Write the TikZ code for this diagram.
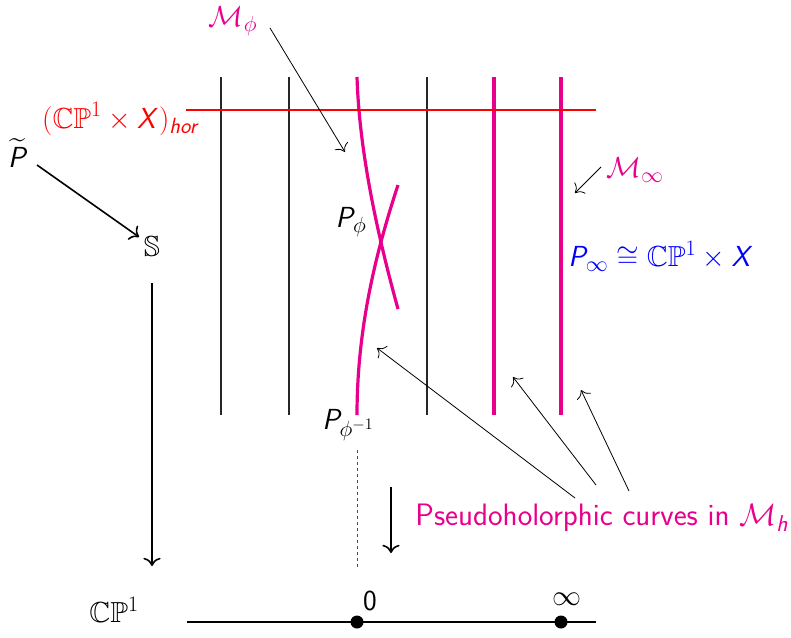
\RequirePackage{fix-cm}
\documentclass[tikz,border=0pt]{standalone}
\usepackage{amsmath,amssymb}
\usetikzlibrary{arrows.meta}
\DeclareFontFamily{U}{msb}{}
\DeclareFontShape{U}{msb}{m}{n}{<-6> msbm5 <6-8> msbm7 <8-> msbm10}{}
\DeclareMathAlphabet{\mathsfit}{OT1}{cmss}{m}{sl}
\DeclareMathSizes{29}{29}{22}{16}
\DeclareMathSizes{31}{31}{23}{17}
\definecolor{mag}{RGB}{232,0,140}
\definecolor{myblue}{RGB}{0,0,255}
\definecolor{myred}{RGB}{255,0,0}
\begin{document}
\begin{tikzpicture}[x=1pt,y=-1pt,
  lbl/.style={inner sep=0pt,font=\fontsize{29}{34}\selectfont\sffamily},
  fib/.style={line width=1.4pt,black!85},
  magfib/.style={line width=3.2pt,mag},
  thin/.style={line width=0.8pt,-{To[scale=2.2]}},
  thick/.style={line width=1.6pt,-{To[scale=1.6]}}]
\useasboundingbox (0,0) rectangle (791,637);
% fibers
\foreach \xx/\nm in {221/a,289/b,427/c} {
  \coordinate (\nm t) at (\xx,77); \coordinate (\nm b) at (\xx,415);
  \draw[fib] (\nm t) -- (\nm b);}
\foreach \xx/\nm in {494/d,561/e} {
  \coordinate (\nm t) at (\xx,77); \coordinate (\nm b) at (\xx,415);
  \draw[magfib] (\nm t) -- (\nm b);}
% special fiber
\coordinate (ct) at (357,77);
\coordinate (ce) at (398,309);
\coordinate (cs) at (398,185);
\coordinate (cb) at (357,415);
\draw[magfib] (ct) .. controls (359,140) and (372,215) .. (ce);
\draw[magfib] (cs) .. controls (375,255) and (357,330) .. (cb);
% horizontal section
\coordinate (hl) at (186,110); \coordinate (hr) at (596,110);
\draw[myred,line width=1.2pt] (hl) -- (hr);
% labels
\node[lbl,text=myred] (hor) at (121,119) {$(\mathbb{CP}^1\times \mathsfit{X})_{\mathsfit{hor}}$};
\node[lbl] (Pt) at (18,153) {$\widetilde{\mathsfit P}$};
\node[lbl] (S) at (152,247) {$\mathbb S$};
\node[lbl] (CP) at (114,610) {$\mathbb{CP}^1$};
\node[lbl,text=mag] (Mphi) at (233,21) {$\mathcal M_\phi$};
\node[lbl,text=mag] (Minf) at (635,170) {$\mathcal M_\infty$};
\node[lbl,text=myblue] (Pinf) at (661,256) {$\mathsfit P_\infty\cong\mathbb{CP}^1\times\mathsfit X$};
\node[lbl] (Pphi) at (351,222) {$\mathsfit P_\phi$};
\node[lbl] (Pphii) at (348,425) {$\mathsfit P_{\phi^{-1}}$};
\node[lbl,text=mag,font=\fontsize{31}{36}\selectfont\sffamily] (pseudo) at (602,518) {Pseudoholorphic curves in $\mathcal M_{\mathsfit h}$};
\node[lbl] (zero) at (370,601) {0};
\node[lbl] (inf) at (567,599) {$\infty$};
% base
\coordinate (bl) at (187,622); \coordinate (br) at (596,622);
\draw[line width=1.4pt] (bl) -- (br);
\coordinate (p0) at (357,622); \coordinate (pinf) at (561,622);
\fill (p0) circle (6.5);
\fill (pinf) circle (6.5);
% dashed fiber projection
\coordinate (dt) at (357,450); \coordinate (db) at (357,567);
\draw[dashed,line width=0.8pt,black!70] (dt) -- (db);
% maps
\coordinate (a1) at (37,165); \coordinate (a2) at (139,237);
\draw[thick] (a1) -- (a2);
\coordinate (v1) at (152,283); \coordinate (v2) at (152,566);
\draw[thick] (v1) -- (v2);
\coordinate (w1) at (391,487); \coordinate (w2) at (391,553);
\draw[thick] (w1) -- (w2);
% thin arrows
\coordinate (m1) at (270,28); \coordinate (m2) at (345,152);
\draw[thin] (m1) -- (m2);
\coordinate (n1) at (601,167); \coordinate (n2) at (575,193);
\draw[thin] (n1) -- (n2);
\coordinate (q1) at (575,498); \coordinate (q2) at (377,348);
\coordinate (r1) at (596,485); \coordinate (r2) at (513,377);
\coordinate (s1) at (629,491); \coordinate (s2) at (581,390);
\draw[thin] (q1) -- (q2);
\draw[thin] (r1) -- (r2);
\draw[thin] (s1) -- (s2);
\end{tikzpicture}
\end{document}
